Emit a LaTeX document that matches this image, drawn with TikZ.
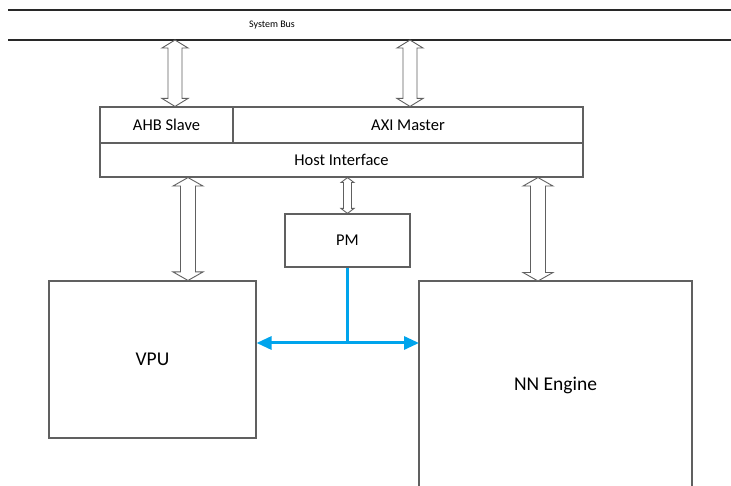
\documentclass[tikz,border=0pt]{standalone}
\usepackage{fontspec}
\setmainfont{Carlito}
\usetikzlibrary{calc,arrows.meta}
\definecolor{edgegray}{RGB}{96,96,96}
\definecolor{busblack}{RGB}{40,40,40}
\definecolor{linkblue}{RGB}{0,164,236}
\tikzset{
  block/.style={draw=edgegray, line width=1.1pt, fill=white, inner sep=0pt, font=\fontsize{16.5}{18}\selectfont},
  bigblock/.style={block, font=\fontsize{19.5}{22}\selectfont},
  busline/.style={draw=busblack, line width=2pt},
  hollow/.style={draw=edgegray, line width=0.9pt, fill=white, line join=miter},
  link/.style={draw=linkblue, line width=3pt},
  linkarrow/.style={link, {Triangle[length=15pt,width=13pt]}-{Triangle[length=15pt,width=13pt]}}
}
% vertical hollow double arrow between two points:
% #1 upper point, #2 lower point, #3 half shaft width, #4 half head width, #5 head length
\newcommand{\hollowarrow}[5]{%
  \path[hollow] let \p1=(#1), \p2=(#2) in
    (\x1,\y1) -- ($(\x1,\y1)+(#4,-#5)$) -- ($(\x1,\y1)+(#3,-#5)$)
    -- ($(\x1,\y2)+(#3,#5)$) -- ($(\x1,\y2)+(#4,#5)$) -- (\x1,\y2)
    -- ($(\x1,\y2)+(-#4,#5)$) -- ($(\x1,\y2)+(-#3,#5)$)
    -- ($(\x1,\y1)+(-#3,-#5)$) -- ($(\x1,\y1)+(-#4,-#5)$) -- cycle;}
\begin{document}
\begin{tikzpicture}[x=1pt,y=1pt]
  \useasboundingbox (0,0) rectangle (731,485);
  \fill[white] (0,0) rectangle (731,485);

  % system bus
  \coordinate (busL) at (8,445);
  \coordinate (busR) at (731,445);
  \draw[busline] (8,475) -- (731,475);
  \draw[busline] (busL) -- (busR);
  \node[font=\fontsize{10}{12}\selectfont] (bus) at (272,460) {System Bus};

  % host interface block
  \node[block, minimum width=133pt, minimum height=36pt] (ahb) at (166.5,360) {AHB Slave};
  \node[block, minimum width=350pt, minimum height=36pt] (axi) at (408,360) {AXI Master};
  \node[block, minimum width=483pt, minimum height=34pt] (host) at (341.5,325) {Host Interface};

  % power management
  \node[block, minimum width=125pt, minimum height=53pt] (pm) at (347.5,244.5) {PM};

  % processing units
  \node[bigblock, minimum width=207pt, minimum height=157pt] (vpu) at (152.5,125.5) {VPU};
  \draw[edgegray, line width=1.1pt] (419,-2) -- (419,204) -- (692,204) -- (692,-2);
  \coordinate (nnW) at (419,142);
  \coordinate (nnN) at (538,204);
  \node[font=\fontsize{19.5}{22}\selectfont] (nn) at (555.5,100) {NN Engine};

  % bus connections
  \coordinate (ahbTop) at (175,445);
  \coordinate (axiTop) at (410,445);
  \hollowarrow{ahbTop}{ahb.north -| ahbTop}{7pt}{13pt}{8pt}
  \hollowarrow{axiTop}{axi.north -| axiTop}{7pt}{13pt}{8pt}

  % host interface to units
  \coordinate (vpuX) at (188,0);
  \hollowarrow{host.south -| vpuX}{vpu.north -| vpuX}{7.5pt}{15pt}{8.5pt}
  \hollowarrow{host.south -| nnN}{nnN}{7.5pt}{15pt}{8.5pt}
  \hollowarrow{host.south -| pm.south}{pm.north}{4pt}{6.5pt}{5pt}

  % PM control link
  \coordinate (tee) at (pm.south |- nnW);
  \draw[link] (pm.south) -- (tee);
  \draw[linkarrow] (vpu.east |- nnW) -- (nnW);
\end{tikzpicture}
\end{document}
